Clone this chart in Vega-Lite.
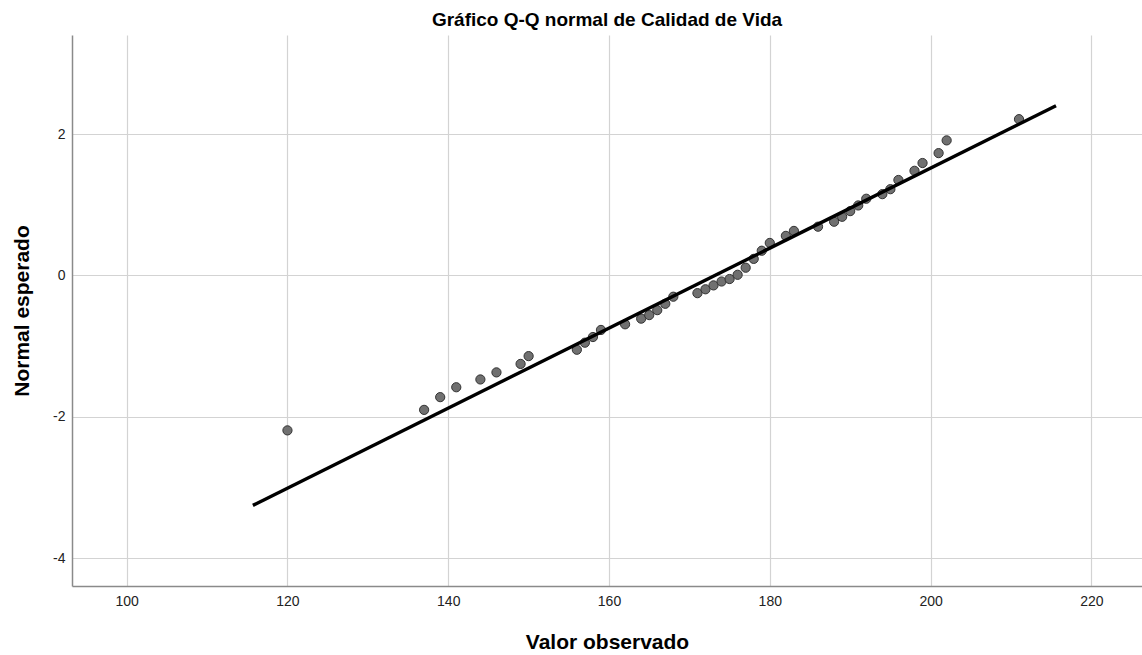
{
  "$schema": "https://vega.github.io/schema/vega-lite/v6.json",
  "autosize": "none",
  "width": 1070,
  "height": 551,
  "padding": {"left": 72, "top": 35, "right": 0, "bottom": 69},
  "background": "white",
  "config": {
    "font": "Liberation Sans",
    "view": {"stroke": null},
    "axis": {
      "labelFont": "Liberation Sans",
      "labelFontSize": 14,
      "labelColor": "#222222",
      "titleFont": "Liberation Sans",
      "titleFontSize": 21,
      "titleFontWeight": "bold",
      "titleColor": "#000000",
      "gridColor": "#d3d3d3",
      "gridWidth": 1.2,
      "gridOpacity": 1,
      "domainColor": "#8a8a8a",
      "domainWidth": 1.5,
      "ticks": false
    }
  },
  "title": {
    "text": "Gráfico Q-Q normal de Calidad de Vida",
    "font": "Liberation Sans",
    "fontSize": 19,
    "fontWeight": "bold",
    "color": "#000000",
    "anchor": "middle",
    "offset": 5
  },
  "datasets": {
    "puntos": [
      {"observado": 120, "esperado": -2.19},
      {"observado": 137, "esperado": -1.90},
      {"observado": 139, "esperado": -1.72},
      {"observado": 141, "esperado": -1.58},
      {"observado": 144, "esperado": -1.47},
      {"observado": 146, "esperado": -1.37},
      {"observado": 149, "esperado": -1.25},
      {"observado": 150, "esperado": -1.14},
      {"observado": 156, "esperado": -1.05},
      {"observado": 157, "esperado": -0.95},
      {"observado": 158, "esperado": -0.87},
      {"observado": 159, "esperado": -0.77},
      {"observado": 162, "esperado": -0.69},
      {"observado": 164, "esperado": -0.61},
      {"observado": 165, "esperado": -0.56},
      {"observado": 166, "esperado": -0.49},
      {"observado": 167, "esperado": -0.40},
      {"observado": 168, "esperado": -0.30},
      {"observado": 171, "esperado": -0.25},
      {"observado": 172, "esperado": -0.195},
      {"observado": 173, "esperado": -0.14},
      {"observado": 174, "esperado": -0.085},
      {"observado": 175, "esperado": -0.05},
      {"observado": 176, "esperado": 0.01},
      {"observado": 177, "esperado": 0.11},
      {"observado": 178, "esperado": 0.235},
      {"observado": 179, "esperado": 0.35},
      {"observado": 180, "esperado": 0.46},
      {"observado": 182, "esperado": 0.56},
      {"observado": 183, "esperado": 0.63},
      {"observado": 186, "esperado": 0.69},
      {"observado": 188, "esperado": 0.76},
      {"observado": 189, "esperado": 0.83},
      {"observado": 190, "esperado": 0.91},
      {"observado": 191, "esperado": 0.99},
      {"observado": 192, "esperado": 1.085},
      {"observado": 194, "esperado": 1.15},
      {"observado": 195, "esperado": 1.22},
      {"observado": 196, "esperado": 1.35},
      {"observado": 198, "esperado": 1.48},
      {"observado": 199, "esperado": 1.59},
      {"observado": 201, "esperado": 1.73},
      {"observado": 202, "esperado": 1.91},
      {"observado": 211, "esperado": 2.21}
    ],
    "linea": [
      {"observado": 115.7, "esperado": -3.25},
      {"observado": 215.6, "esperado": 2.40}
    ]
  },
  "encoding": {
    "x": {
      "field": "observado",
      "type": "quantitative",
      "title": "Valor observado",
      "scale": {"domain": [93.2, 226.3], "nice": false, "zero": false},
      "axis": {"values": [100, 120, 140, 160, 180, 200, 220], "labelPadding": 8, "titlePadding": 23}
    },
    "y": {
      "field": "esperado",
      "type": "quantitative",
      "title": "Normal esperado",
      "scale": {"domain": [-4.39, 3.40], "nice": false, "zero": false},
      "axis": {"values": [-4, -2, 0, 2], "labelExpr": "'' + datum.value", "labelPadding": 7, "titlePadding": 20}
    }
  },
  "layer": [
    {
      "data": {"name": "puntos"},
      "mark": {"type": "point", "filled": true, "shape": "circle", "size": 85, "fill": "#707070", "stroke": "#333333", "strokeWidth": 1, "opacity": 1, "fillOpacity": 1}
    },
    {
      "data": {"name": "linea"},
      "mark": {"type": "line", "color": "#000000", "strokeWidth": 3.4}
    }
  ]
}
